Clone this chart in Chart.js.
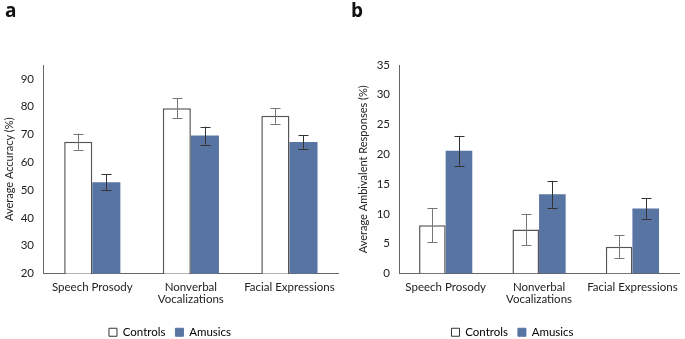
<!DOCTYPE html>
<html>
<head>
<meta charset="utf-8">
<script src="https://cdn.jsdelivr.net/npm/chart.js@4/dist/chart.umd.min.js"></script>
<style>
  html, body { margin: 0; padding: 0; background: #fff; }
  #wrap { position: relative; width: 685px; height: 339px; }
  .panel { position: absolute; top: 0; height: 339px; }
  .lbl { position: absolute; top: -3px; font: bold 19px "Open Sans", Arial, sans-serif; color: #111; }
</style>
</head>
<body>
<div id="wrap">
  <div class="panel" style="left:0;width:342px"><canvas id="ca" width="342" height="339"></canvas></div>
  <div class="panel" style="left:342px;width:343px"><canvas id="cb" width="343" height="339"></canvas></div>
  <div class="lbl" style="left:5px">a</div>
  <div class="lbl" style="left:351px">b</div>
</div>
<script>
// ---- data ----
const categories = [["Speech Prosody"], ["Nonverbal", "Vocalizations"], ["Facial Expressions"]];
const seriesNames = ["Controls", "Amusics"];
// Panel a: Average Accuracy (%)
const accControls = [67.4, 79.4, 76.7];
const accControlsErr = [2.9, 3.6, 2.8];
const accAmusics = [52.8, 69.6, 67.3];
const accAmusicsErr = [2.9, 3.2, 2.4];
const accTicks = [20, 30, 40, 50, 60, 70, 80, 90];
// Panel b: Average Ambivalent Responses (%)
const ambControls = [8.1, 7.4, 4.5];
const ambControlsErr = [2.85, 2.6, 1.95];
const ambAmusics = [20.6, 13.3, 10.9];
const ambAmusicsErr = [2.5, 2.25, 1.7];
const ambTicks = [0, 5, 10, 15, 20, 25, 30, 35];

const BLUE = "#5874a3";
const FONT = "Lato, 'Open Sans', sans-serif";

const errorBars = {
  id: "errorBars",
  afterDatasetsDraw(chart) {
    const ctx = chart.ctx;
    const y = chart.scales.y;
    chart.data.datasets.forEach((ds, di) => {
      const meta = chart.getDatasetMeta(di);
      meta.data.forEach((bar, i) => {
        const v = ds.data[i], e = ds.errors[i];
        const yt = y.getPixelForValue(v + e), yb = y.getPixelForValue(v - e);
        const x = Math.round(bar.x) + 0.5;
        ctx.save();
        ctx.strokeStyle = di === 0 ? "#777" : "#333";
        ctx.lineWidth = 1;
        ctx.beginPath();
        ctx.moveTo(x, yt); ctx.lineTo(x, yb);
        ctx.moveTo(x - 5, Math.round(yt) + 0.5); ctx.lineTo(x + 5, Math.round(yt) + 0.5);
        ctx.moveTo(x - 5, Math.round(yb) + 0.5); ctx.lineTo(x + 5, Math.round(yb) + 0.5);
        ctx.stroke();
        ctx.restore();
      });
    });
  }
};

function makeChart(id, c, ce, a, ae, ticks, min, max, title, yWidth, titlePad) {
  return new Chart(document.getElementById(id), {
    type: "bar",
    data: {
      labels: categories,
      datasets: [
        { label: seriesNames[0], data: c, errors: ce, backgroundColor: "#ffffff",
          borderColor: "#555", borderWidth: {top: 1.5, left: 1.5, right: 1.5, bottom: 0}, borderSkipped: false,
          barPercentage: 1, categoryPercentage: 0.57 },
        { label: seriesNames[1], data: a, errors: ae, backgroundColor: BLUE, borderWidth: 0,
          barPercentage: 1, categoryPercentage: 0.57 }
      ]
    },
    options: {
      responsive: false, animation: false,
      layout: { padding: { top: 65, right: 2, left: 0, bottom: -9 } },
      plugins: {
        tooltip: { enabled: false },
        legend: {
          position: "bottom",
          labels: {
            font: { family: FONT, size: 11.5 }, color: "#222",
            boxWidth: 8, boxHeight: 8, padding: 10,
            generateLabels(chart) {
              return chart.data.datasets.map((ds, i) => ({
                text: ds.label,
                fillStyle: i === 0 ? "#fff" : BLUE,
                strokeStyle: i === 0 ? "#333" : BLUE,
                lineWidth: 1, datasetIndex: i
              }));
            }
          }
        }
      },
      scales: {
        x: {
          grid: { display: false, drawTicks: false },
          border: { color: "#666", width: 1 },
          ticks: { font: { family: FONT, size: 11.5, lineHeight: 1.1 }, color: "#222", padding: 7, maxRotation: 0, autoSkip: false },
          afterFit(s) { s.height = 43; }
        },
        y: {
          min: min, max: max,
          grid: { display: false, drawTicks: false },
          border: { color: "#666", width: 1 },
          ticks: { font: { family: FONT, size: 11.5 }, color: "#222", padding: 9 },
          afterBuildTicks(s) { s.ticks = ticks.map(v => ({ value: v })); },
          title: { display: true, text: title, font: { family: FONT, size: 11 }, color: "#222", padding: { top: titlePad, bottom: 0 } },
          afterFit(s) { s.width = yWidth; }
        }
      }
    },
    plugins: [errorBars]
  });
}

makeChart("ca", accControls, accControlsErr, accAmusics, accAmusicsErr, accTicks, 20, 95, "Average Accuracy (%)", 43, 3);
makeChart("cb", ambControls, ambControlsErr, ambAmusics, ambAmusicsErr, ambTicks, 0, 35, "Average Ambivalent Responses (%)", 57, 15);
</script>
</body>
</html>
